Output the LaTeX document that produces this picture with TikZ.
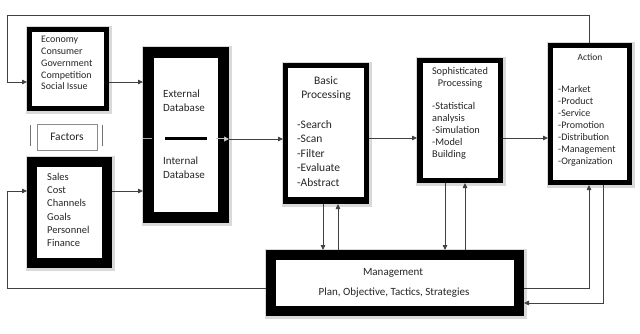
\documentclass[tikz,border=0pt]{standalone}
\usepackage{fontspec}
\setmainfont{Carlito}
\usetikzlibrary{arrows.meta,calc,positioning}

\begin{document}
\begin{tikzpicture}[x=1pt, y=-1pt,
  thickbox/.style={rectangle, draw=black, fill=white, line width=#1, inner sep=0pt,
    preaction={draw=black!15, line width=#1+4pt, transform canvas={shift={(1pt,-1pt)}}}},
  txt/.style={inner sep=0pt, text=black!85, align=left},
  link/.style={draw=black!75, line width=0.8pt},
  arr/.style={link, -{Triangle[length=5pt,width=4.5pt]}}
]
  \fill[white] (0,0) rectangle (640,334);
  \useasboundingbox (0,0) rectangle (640,334);

  % framed boxes
  \node[thickbox=5pt,  minimum width=77pt,  minimum height=79pt]  (econ)   at (68,69)     {};
  \node[thickbox=10pt, minimum width=75pt,  minimum height=101pt] (sales)  at (69.5,212.5) {};
  \node[thickbox=11pt, minimum width=75pt,  minimum height=165pt] (db)     at (186,135)   {};
  \node[thickbox=5pt,  minimum width=81pt,  minimum height=136pt] (basic)  at (326,133.5) {};
  \node[thickbox=5pt,  minimum width=81pt,  minimum height=120pt] (soph)   at (460,120.5) {};
  \node[thickbox=5pt,  minimum width=79pt,  minimum height=137pt] (action) at (590,114)   {};
  \node[thickbox=10pt, minimum width=248pt, minimum height=56pt]  (mgmt)   at (395,283)   {};
  \node[draw=black!45, line width=0.6pt, minimum width=60pt, minimum height=26pt, inner sep=0pt,
        text=black!85, font=\fontsize{11.5}{13}\selectfont] (factors) at (67,137) {Factors};
  \draw[black!55, line width=1.2pt] ($(factors.west)+(-6,-12)$) -- ($(factors.west)+(-6,9)$);
  \draw[black!55, line width=1.2pt] ($(factors.east)+(5,-12)$) -- ($(factors.east)+(5,9)$);
  % heavier lower edges
  \fill[black] ($(basic.south west)+(0,-7)$) rectangle (basic.south east);
  \fill[black] (soph.north west) rectangle ($(soph.south west)+(6,0)$);

  % texts
  \node[txt, anchor=north west, font=\fontsize{10}{11.8}\selectfont] (econtext) at (41,36)
    {Economy\\Consumer\\Government\\Competition\\Social Issue};
  \node[txt, anchor=north west, font=\fontsize{10.5}{13.2}\selectfont] (salestext) at (47,173)
    {Sales\\Cost\\Channels\\Goals\\Personnel\\Finance};
  \node[txt, anchor=north west, font=\fontsize{11}{14}\selectfont] (exttext) at (163,90)
    {External\\Database};
  \node[txt, anchor=north west, font=\fontsize{11}{14}\selectfont] (inttext) at (163,157)
    {Internal\\Database};
  \node[txt, anchor=north, align=center, font=\fontsize{11.5}{14.6}\selectfont] (basichead) at (326,76)
    {Basic\\Processing};
  \node[txt, anchor=north west, font=\fontsize{11.5}{14.6}\selectfont] (basiclist) at (297,120)
    {-Search\\-Scan\\-Filter\\-Evaluate\\-Abstract};
  \node[txt, anchor=north, align=center, font=\fontsize{10.3}{12}\selectfont] (sophhead) at (460,67)
    {Sophisticated\\Processing};
  \node[txt, anchor=north west, font=\fontsize{10.3}{12}\selectfont] (sophlist) at (432,102)
    {-Statistical\\analysis\\-Simulation\\-Model\\Building};
  \node[txt, font=\fontsize{9.5}{12}\selectfont] (actionhead) at (590,57) {Action};
  \node[txt, anchor=north west, font=\fontsize{10}{12}\selectfont] (actionlist) at (558,85)
    {-Market\\-Product\\-Service\\-Promotion\\-Distribution\\-Management\\-Organization};
  \node[txt, font=\fontsize{11}{13}\selectfont] (mgmthead) at (393,273) {Management};
  \node[txt, font=\fontsize{11}{13}\selectfont] (mgmtlist) at (394,293)
    {Plan, Objective, Tactics, Strategies};

  % divider inside the database box
  \draw[line width=3pt] (165,139) -- (207,139);
  \draw[black!35, line width=1pt] (db.west |- 0,139) -- ++(9,0);
  \draw[black!25, line width=1pt, -{Triangle[length=5pt,width=5pt,fill=white]}] (216,139) -- (db.east |- 0,139);

  % connectors
  \draw[arr] (econ.east |- 0,82) -- (db.west |- 0,82);
  \draw[arr] (sales.east |- 0,191) -- (db.west |- 0,191);
  \draw[arr] (db.east |- 0,139) -- (basic.west |- 0,139);
  \draw[arr] (basic.east |- 0,138) -- (soph.west |- 0,138);
  \draw[arr] (soph.east |- 0,138) -- (action.west |- 0,138);
  \draw[arr] (basic.south -| 323,0) -- (mgmt.north -| 323,0);
  \draw[arr] (mgmt.north -| 338,0) -- (basic.south -| 338,0);
  \draw[arr] (soph.south -| 445,0) -- (mgmt.north -| 445,0);
  \draw[arr] (mgmt.north -| 465,0) -- (soph.south -| 465,0);
  \draw[arr] (mgmt.east |- 0,288) -| (action.south -| 589,0);
  \draw[arr] (action.south -| 603,0) |- (mgmt.east |- 0,303);
  \draw[arr] (action.north -| 589,0) |- (7,15) |- (econ.west |- 0,82);
  \draw[arr] (mgmt.west |- 0,288) -| (7,191) -- (sales.west |- 0,191);
\end{tikzpicture}
\end{document}
